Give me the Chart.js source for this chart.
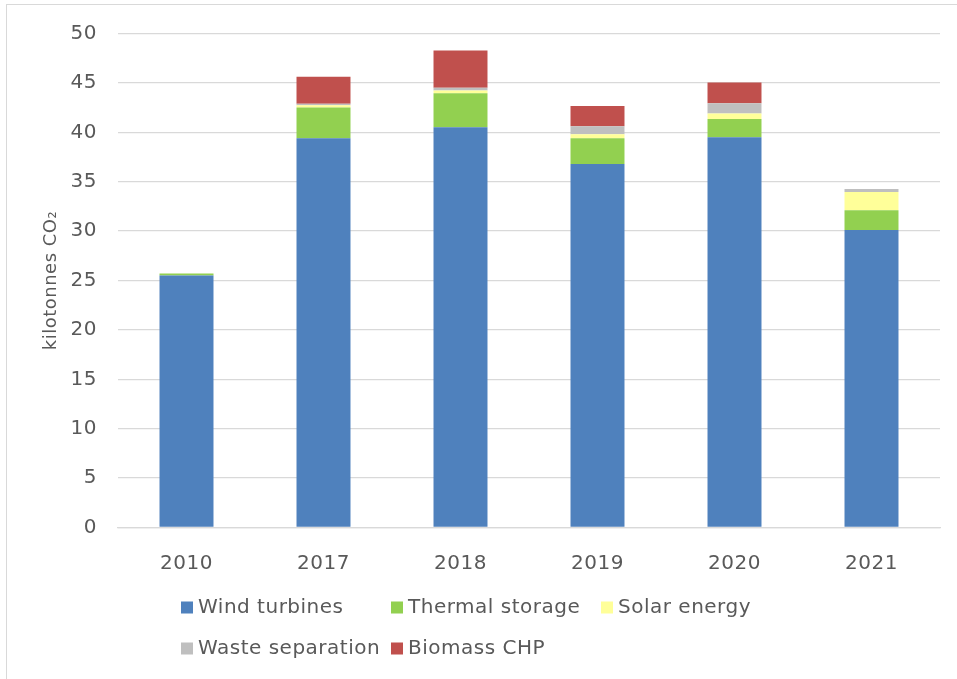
<!DOCTYPE html>
<html>
<head>
<meta charset="utf-8">
<script src="https://cdn.jsdelivr.net/npm/chart.js@4.4.1/dist/chart.umd.min.js"></script>
<style>
  html, body { margin: 0; padding: 0; background: #fff; }
  canvas { display: block; }
</style>
</head>
<body>
<canvas id="co2Chart" width="957" height="679"></canvas>
<script>
// Years on the x axis
const years = ["2010", "2017", "2018", "2019", "2020", "2021"];

// Savings per measure, kilotonnes CO2
const windTurbines = [25.5, 39.4, 40.5, 36.8, 39.5, 30.1];
const thermalStorage = [0.2, 3.1, 3.45, 2.6, 1.85, 2.0];
const solarEnergy = [0, 0.25, 0.27, 0.4, 0.55, 1.85];
const wasteSeparation = [0, 0.13, 0.3, 0.8, 1.05, 0.3];
const biomassCHP = [0, 2.75, 3.75, 2.05, 2.1, 0];

const yTicks = [0, 5, 10, 15, 20, 25, 30, 35, 40, 45, 50];

const textColor = "#595959";
const gridColor = "#d9d9d9";
const fontFamily = "'DejaVu Sans', Verdana, sans-serif";

// Excel style legend laid out in a fixed grid (3 columns)
const gridLegend = {
  id: "gridLegend",
  beforeUpdate(chart) {
    chart.ctx.letterSpacing = "0.5px";
  },
  beforeDraw(chart) {
    const ctx = chart.ctx;
    ctx.save();
    ctx.strokeStyle = gridColor;
    ctx.lineWidth = 1;
    ctx.strokeRect(6.5, 4.5, chart.width + 10, chart.height + 10);
    ctx.restore();
  },
  afterDraw(chart) {
    const ctx = chart.ctx;
    const area = chart.chartArea;
    const startX = area.left + 63;
    const startY = area.bottom + 80;
    ctx.save();
    ctx.font = "20px " + fontFamily;
    ctx.textBaseline = "middle";
    ctx.textAlign = "left";
    chart.data.datasets.forEach((ds, i) => {
      const col = i % 3;
      const row = Math.floor(i / 3);
      const x = startX + col * 210;
      const y = startY + row * 41;
      ctx.fillStyle = ds.backgroundColor;
      ctx.fillRect(x, y - 6, 12, 12);
      ctx.fillStyle = textColor;
      ctx.fillText(ds.label, x + 17, y);
    });
    ctx.restore();
  }
};

const ctx = document.getElementById("co2Chart").getContext("2d");
const co2Chart = new Chart(ctx, {
  type: "bar",
  data: {
    labels: years,
    datasets: [
      { label: "Wind turbines", data: windTurbines, backgroundColor: "#4f81bd" },
      { label: "Thermal storage", data: thermalStorage, backgroundColor: "#92d050" },
      { label: "Solar energy", data: solarEnergy, backgroundColor: "#ffff99" },
      { label: "Waste separation", data: wasteSeparation, backgroundColor: "#bfbfbf" },
      { label: "Biomass CHP", data: biomassCHP, backgroundColor: "#c0504d" }
    ]
  },
  options: {
    responsive: false,
    animation: false,
    devicePixelRatio: 1,
    layout: { padding: { left: 0, top: 33.5, right: 17, bottom: 0 } },
    datasets: {
      bar: { categoryPercentage: 1, barPercentage: 0.394, borderWidth: 0 }
    },
    plugins: {
      legend: { display: false },
      tooltip: { enabled: false }
    },
    scales: {
      x: {
        stacked: true,
        grid: { display: false },
        border: { display: true, color: gridColor, width: 1.3 },
        ticks: { color: textColor, font: { family: fontFamily, size: 20 }, padding: 16 },
        afterFit: scale => { scale.height = 151.5; }
      },
      y: {
        stacked: true,
        min: 0,
        max: 50,
        afterBuildTicks: scale => { scale.ticks = yTicks.map(v => ({ value: v })); },
        grid: { color: gridColor, lineWidth: 1.3, drawTicks: false },
        border: { display: false },
        ticks: { color: textColor, font: { family: fontFamily, size: 20 }, padding: 21 },
        title: {
          display: true,
          text: "kilotonnes CO₂",
          color: textColor,
          font: { family: fontFamily, size: 18 },
          padding: { top: 41 }
        },
        afterFit: scale => { scale.width = 118; }
      }
    }
  },
  plugins: [gridLegend]
});
</script>
</body>
</html>
